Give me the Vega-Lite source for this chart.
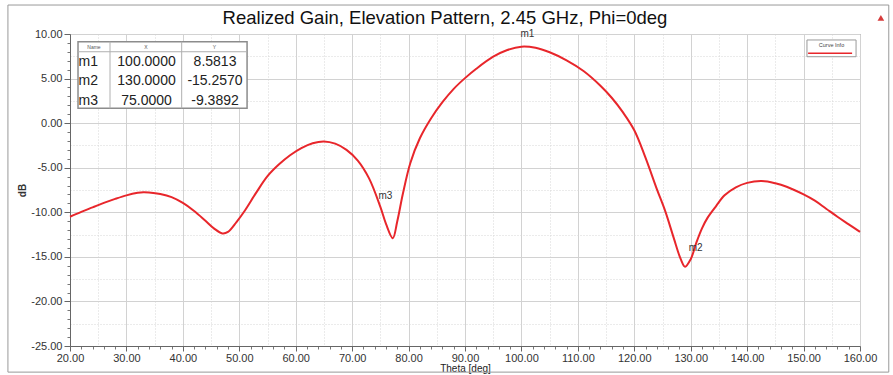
{
  "$schema": "https://vega.github.io/schema/vega-lite/v6.json",
  "width": 790,
  "height": 312,
  "autosize": {"type": "none"},
  "padding": {"left": 70, "top": 34, "right": 33, "bottom": 29},
  "background": "white",
  "config": {
    "locale": {"number": {"decimal": ".", "thousands": ",", "grouping": [3], "currency": ["$", ""], "minus": "-"}},
    "view": {"stroke": "#7a7a7a", "strokeWidth": 1},
    "axis": {"labelFont": "Liberation Sans", "titleFont": "Liberation Sans"},
    "text": {"font": "Liberation Sans"}
  },
  "datasets": {
    "curve": [
      {"theta": 20, "gain": -10.5}, {"theta": 22, "gain": -9.95}, {"theta": 24, "gain": -9.45}, {"theta": 26, "gain": -8.95},
      {"theta": 28, "gain": -8.5}, {"theta": 30, "gain": -8.1}, {"theta": 32, "gain": -7.82}, {"theta": 33, "gain": -7.75},
      {"theta": 34, "gain": -7.78}, {"theta": 36, "gain": -7.95}, {"theta": 38, "gain": -8.3}, {"theta": 40, "gain": -8.95},
      {"theta": 42, "gain": -9.85}, {"theta": 44, "gain": -10.95}, {"theta": 45.5, "gain": -11.8}, {"theta": 47, "gain": -12.37},
      {"theta": 48, "gain": -12.2}, {"theta": 49.5, "gain": -11.1}, {"theta": 51, "gain": -9.8}, {"theta": 53, "gain": -7.8},
      {"theta": 55, "gain": -5.95}, {"theta": 57, "gain": -4.65}, {"theta": 59, "gain": -3.6}, {"theta": 61, "gain": -2.8},
      {"theta": 63, "gain": -2.25}, {"theta": 65, "gain": -2.05}, {"theta": 67, "gain": -2.3}, {"theta": 69, "gain": -3.0},
      {"theta": 71, "gain": -4.2}, {"theta": 73, "gain": -6.2}, {"theta": 75, "gain": -9.39}, {"theta": 76, "gain": -11.3},
      {"theta": 77.2, "gain": -12.9}, {"theta": 78, "gain": -11.0}, {"theta": 79, "gain": -7.9}, {"theta": 80.3, "gain": -4.5},
      {"theta": 82, "gain": -1.7}, {"theta": 84, "gain": 0.55}, {"theta": 86, "gain": 2.35}, {"theta": 88, "gain": 3.85},
      {"theta": 90, "gain": 5.05}, {"theta": 92, "gain": 6.1}, {"theta": 95, "gain": 7.45}, {"theta": 97.5, "gain": 8.2},
      {"theta": 100, "gain": 8.58}, {"theta": 102.5, "gain": 8.45}, {"theta": 105, "gain": 7.95}, {"theta": 108, "gain": 7.05},
      {"theta": 111, "gain": 5.85}, {"theta": 114, "gain": 4.2}, {"theta": 116, "gain": 2.85}, {"theta": 118, "gain": 1.2},
      {"theta": 120, "gain": -0.8}, {"theta": 122, "gain": -3.9}, {"theta": 124, "gain": -7.4}, {"theta": 125.5, "gain": -9.9},
      {"theta": 127, "gain": -12.9}, {"theta": 128.2, "gain": -15.2}, {"theta": 129, "gain": -16.1}, {"theta": 130, "gain": -15.26},
      {"theta": 131, "gain": -13.4}, {"theta": 132, "gain": -11.8}, {"theta": 133, "gain": -10.6}, {"theta": 134.5, "gain": -9.3},
      {"theta": 136, "gain": -8.1}, {"theta": 138, "gain": -7.2}, {"theta": 140, "gain": -6.7}, {"theta": 142.6, "gain": -6.5},
      {"theta": 145, "gain": -6.75}, {"theta": 147, "gain": -7.14}, {"theta": 150, "gain": -8.0}, {"theta": 152, "gain": -8.7},
      {"theta": 154, "gain": -9.6}, {"theta": 156, "gain": -10.5}, {"theta": 158, "gain": -11.35}, {"theta": 160, "gain": -12.2}
    ],
    "markers": [
      {"name": "m1", "X": 100, "Y": 8.5813},
      {"name": "m2", "X": 130, "Y": -15.257},
      {"name": "m3", "X": 75, "Y": -9.3892}
    ]
  },
  "layer": [
    {
      "layer": [
        {
          "data": {"name": "curve"},
          "mark": {"type": "point", "opacity": 0},
          "encoding": {
            "x": {"field": "theta", "type": "quantitative", "axis": {"orient": "bottom", "values": [25, 35, 45, 55, 65, 75, 85, 95, 105, 115, 125, 135, 145, 155], "grid": true, "gridDash": [1, 2], "gridColor": "#d6d6d6", "ticks": false, "labels": false, "domain": false, "title": null}},
            "y": {"field": "gain", "type": "quantitative", "axis": {"orient": "left", "values": [7.5, 2.5, -2.5, -7.5, -12.5, -17.5, -22.5], "grid": true, "gridDash": [1, 2], "gridColor": "#d6d6d6", "ticks": false, "labels": false, "domain": false, "title": null}}
          }
        },
        {
          "data": {"name": "curve"},
          "mark": {"type": "point", "opacity": 0},
          "encoding": {
            "x": {"field": "theta", "type": "quantitative", "axis": {"orient": "bottom", "values": [22, 24, 26, 28, 32, 34, 36, 38, 42, 44, 46, 48, 52, 54, 56, 58, 62, 64, 66, 68, 72, 74, 76, 78, 82, 84, 86, 88, 92, 94, 96, 98, 102, 104, 106, 108, 112, 114, 116, 118, 122, 124, 126, 128, 132, 134, 136, 138, 142, 144, 146, 148, 152, 154, 156, 158], "grid": false, "ticks": true, "tickSize": 3, "tickColor": "#777", "labels": false, "domain": false, "title": null}},
            "y": {"field": "gain", "type": "quantitative", "axis": {"orient": "left", "values": [9, 8, 7, 6, 4, 3, 2, 1, -1, -2, -3, -4, -6, -7, -8, -9, -11, -12, -13, -14, -16, -17, -18, -19, -21, -22, -23, -24], "grid": false, "ticks": true, "tickSize": 3, "tickColor": "#777", "labels": false, "domain": false, "title": null}}
          }
        },
        {
          "data": {"name": "curve"},
          "mark": {"type": "line", "color": "#e8262b", "strokeWidth": 2, "interpolate": "catmull-rom"},
          "encoding": {
            "x": {"field": "theta", "type": "quantitative", "scale": {"domain": [20, 160], "nice": false, "zero": false},
              "axis": {"orient": "bottom", "values": [20, 30, 40, 50, 60, 70, 80, 90, 100, 110, 120, 130, 140, 150, 160], "format": ".2f", "title": "Theta [deg]", "grid": true, "gridColor": "#d2d2d2", "domainColor": "#666", "tickColor": "#666", "tickSize": 5, "labelFontSize": 11, "labelColor": "#333", "labelPadding": 1, "labelFlush": false, "labelOverlap": false, "titleFontSize": 10, "titleFontWeight": "normal", "titleColor": "#222", "titlePadding": 0}},
            "y": {"field": "gain", "type": "quantitative", "scale": {"domain": [-25, 10], "nice": false, "zero": false},
              "axis": {"orient": "left", "values": [10, 5, 0, -5, -10, -15, -20, -25], "format": ".2f", "title": "dB", "grid": true, "gridColor": "#d2d2d2", "domainColor": "#666", "tickColor": "#666", "tickSize": 6, "labelFontSize": 11, "labelColor": "#333", "labelPadding": 2, "labelFlush": false, "labelOverlap": false, "titleFontSize": 10, "titleFontWeight": "bold", "titleColor": "#333", "titleAngle": -90, "titleX": -48, "titleY": 156, "titleAlign": "center", "titleBaseline": "middle"}}
          }
        },
        {
          "data": {"values": [{"title": "Realized Gain, Elevation Pattern, 2.45 GHz, Phi=0deg"}]},
          "mark": {"type": "text", "fontSize": 18.5, "color": "#111", "baseline": "middle", "align": "center", "font": "Liberation Sans"},
          "encoding": {"x": {"datum": 86.45, "axis": null}, "y": {"datum": 11.8, "axis": null}, "text": {"field": "title"}}
        },
        {
          "data": {"name": "markers"},
          "transform": [{"filter": "datum.name === 'm1'"}],
          "mark": {"type": "text", "fontSize": 10, "color": "#333", "dx": 6, "dy": -13, "baseline": "middle", "align": "center"},
          "encoding": {
            "x": {"field": "X", "type": "quantitative", "axis": null},
            "y": {"field": "Y", "type": "quantitative", "axis": null},
            "text": {"field": "name"}
          }
        },
        {
          "data": {"name": "markers"},
          "transform": [{"filter": "datum.name !== 'm1'"}],
          "mark": {"type": "text", "fontSize": 10, "color": "#333", "dx": 5, "dy": -11, "baseline": "middle", "align": "center"},
          "encoding": {
            "x": {"field": "X", "type": "quantitative", "axis": null},
            "y": {"field": "Y", "type": "quantitative", "axis": null},
            "text": {"field": "name"}
          }
        },
        {
          "data": {"values": [{}]},
          "mark": {"type": "rect", "fill": "white", "stroke": "#8c8c8c", "strokeWidth": 1.5},
          "encoding": {
            "x": {"datum": 21.42, "axis": null}, "x2": {"datum": 51.38},
            "y": {"datum": 9.14, "axis": null}, "y2": {"datum": 1.66}
          }
        },
        {
          "data": {"values": [{}]},
          "mark": {"type": "rule", "stroke": "#b0b0b0", "strokeWidth": 1},
          "encoding": {"x": {"datum": 27.09, "axis": null}, "y": {"datum": 9.14, "axis": null}, "y2": {"datum": 1.66}}
        },
        {
          "data": {"values": [{}]},
          "mark": {"type": "rule", "stroke": "#b0b0b0", "strokeWidth": 1},
          "encoding": {"x": {"datum": 39.79, "axis": null}, "y": {"datum": 9.14, "axis": null}, "y2": {"datum": 1.66}}
        },
        {
          "data": {"values": [{}]},
          "mark": {"type": "rule", "stroke": "#b0b0b0", "strokeWidth": 1},
          "encoding": {"x": {"datum": 21.42, "axis": null}, "x2": {"datum": 51.38}, "y": {"datum": 8.01, "axis": null}}
        },
        {
          "data": {"values": [{}]},
          "mark": {"type": "text", "fontSize": 5, "color": "#555", "baseline": "middle", "align": "center"},
          "encoding": {"x": {"datum": 24.25, "axis": null}, "y": {"datum": 8.57, "axis": null}, "text": {"value": "Name"}}
        },
        {
          "data": {"values": [{}]},
          "mark": {"type": "text", "fontSize": 5, "color": "#555", "baseline": "middle", "align": "center"},
          "encoding": {"x": {"datum": 33.44, "axis": null}, "y": {"datum": 8.57, "axis": null}, "text": {"value": "X"}}
        },
        {
          "data": {"values": [{}]},
          "mark": {"type": "text", "fontSize": 5, "color": "#555", "baseline": "middle", "align": "center"},
          "encoding": {"x": {"datum": 45.6, "axis": null}, "y": {"datum": 8.57, "axis": null}, "text": {"value": "Y"}}
        },
        {
          "data": {"values": [{}]},
          "mark": {"type": "rect", "fill": "white", "stroke": "#999", "strokeWidth": 1},
          "encoding": {
            "x": {"datum": 150.6, "axis": null}, "x2": {"datum": 159.3},
            "y": {"datum": 9.33, "axis": null}, "y2": {"datum": 7.45}
          }
        },
        {
          "data": {"values": [{}]},
          "mark": {"type": "text", "fontSize": 5.5, "color": "#444", "baseline": "middle", "align": "center"},
          "encoding": {"x": {"datum": 154.95, "axis": null}, "y": {"datum": 8.77, "axis": null}, "text": {"value": "Curve Info"}}
        },
        {
          "data": {"values": [{}]},
          "mark": {"type": "rule", "stroke": "#e8262b", "strokeWidth": 1.5},
          "encoding": {"x": {"datum": 150.8, "axis": null}, "x2": {"datum": 158.6}, "y": {"datum": 7.83, "axis": null}}
        },
        {
          "data": {"values": [{}]},
          "mark": {"type": "point", "shape": "triangle-up", "filled": true, "color": "#d63a3a", "size": 45, "opacity": 1},
          "encoding": {"x": {"datum": 163.7, "axis": null}, "y": {"datum": 11.8, "axis": null}}
        },
        {
          "data": {"values": [{}]},
          "mark": {"type": "rule", "stroke": "#999", "strokeWidth": 1},
          "encoding": {"x": {"datum": 9.0, "axis": null}, "y": {"datum": 13.25, "axis": null}, "y2": {"datum": -27.93}}
        },
        {
          "data": {"values": [{}]},
          "mark": {"type": "rule", "stroke": "#999", "strokeWidth": 1},
          "encoding": {"x": {"datum": 165.1, "axis": null}, "y": {"datum": 13.25, "axis": null}, "y2": {"datum": -27.93}}
        },
        {
          "data": {"values": [{}]},
          "mark": {"type": "rule", "stroke": "#999", "strokeWidth": 1},
          "encoding": {"x": {"datum": 9.0, "axis": null}, "x2": {"datum": 165.1}, "y": {"datum": 13.25, "axis": null}}
        },
        {
          "data": {"values": [{}]},
          "mark": {"type": "rule", "stroke": "#999", "strokeWidth": 1},
          "encoding": {"x": {"datum": 9.0, "axis": null}, "x2": {"datum": 165.1}, "y": {"datum": -27.93, "axis": null}}
        }
      ],
      "resolve": {"axis": {"x": "independent", "y": "independent"}}
    },
    {
      "data": {"name": "markers"},
      "layer": [
        {
          "mark": {"type": "text", "fontSize": 14, "color": "#222", "baseline": "middle", "align": "center"},
          "encoding": {
            "x": {"datum": 23.24, "axis": null},
            "y": {"field": "name", "type": "ordinal", "scale": {"type": "point", "domain": ["m1", "m2", "m3"], "range": [27.7, 66.7], "padding": 0}, "axis": null},
            "text": {"field": "name"}
          }
        },
        {
          "mark": {"type": "text", "fontSize": 14, "color": "#222", "baseline": "middle", "align": "center"},
          "encoding": {
            "x": {"datum": 33.56, "axis": null},
            "y": {"field": "name", "type": "ordinal", "axis": null},
            "text": {"field": "X", "type": "quantitative", "format": ".4f"}
          }
        },
        {
          "mark": {"type": "text", "fontSize": 14, "color": "#222", "baseline": "middle", "align": "center"},
          "encoding": {
            "x": {"datum": 45.7, "axis": null},
            "y": {"field": "name", "type": "ordinal", "axis": null},
            "text": {"field": "Y", "type": "quantitative", "format": ".4f"}
          }
        }
      ]
    }
  ],
  "resolve": {"scale": {"y": "independent"}}
}
